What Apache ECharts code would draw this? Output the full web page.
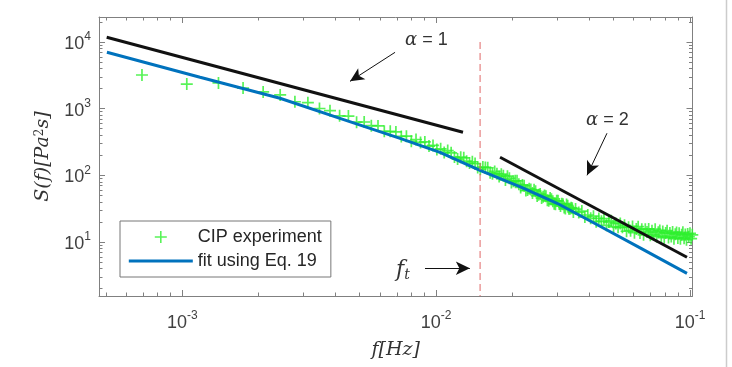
<!DOCTYPE html>
<html><head><meta charset="utf-8">
<script src="https://cdn.jsdelivr.net/npm/echarts@6/dist/echarts.min.js"></script>
<style>html,body{margin:0;padding:0;background:#fff}#c{width:732px;height:367px}</style>
</head><body><div id="c"></div><script>
// ---------- data ----------
const freq = [0.000694,0.001042,0.001389,0.001736,0.002083,0.002431,0.002778,0.003125,0.003472,0.003819,0.004167,0.004514,0.004861,0.005208,0.005556,0.005903,0.00625,0.006597,0.006944,0.007292,0.007639,0.007986,0.008333,0.008681,0.009028,0.009375,0.009722,0.01007,0.01042,
0.01111,0.01181,0.0125,0.01319,0.01389,0.01458,0.01528,0.01597,0.01667,0.01736,0.01806,0.01875,0.01944,0.02014,0.02083,0.02153,0.02222,0.02292,0.02361,0.02431,0.025,0.02569,0.02639,0.02708,0.02778,0.02847,0.02917,0.02986,0.03056,0.03125,0.03194,0.03264,0.03333,0.03403,0.03472,
0.03542,0.03646,0.0375,0.03854,0.03958,0.04063,0.04167,0.04271,0.04375,0.04479,0.04583,0.04688,0.04792,0.04896,0.05,0.05104,0.05208,0.05313,0.05417,0.05521,0.05625,0.05729,0.05833,0.05938,0.06042,0.06146,0.0625,0.06354,0.06458,0.06563,0.06667,0.06771,0.06875,0.06979,0.07083,0.07188,0.07292,0.07396,0.075,0.07604,0.07708,0.07813,0.07917,0.08021,0.08125,0.08229,0.08333,0.08438,0.08542,0.08646,0.0875,0.08854,0.08958,0.09063,0.09167,0.09271,0.09375,0.09479,0.09583,0.09688,0.09792,0.09896,0.1,0.101,0.1021];
const cipS = [3200,2340,2430,2040,1780,1607,1270,1229,1005,933,781,774,628,631,555,551,457,457,448,384,387,325,345,312,317,275,281,244,250,
235,188,187,163,160,131,133,130,106,106,104,85.4,90.3,81.5,82.7,65.9,69.8,60.2,61.1,60.7,49.1,52.4,47.7,48.7,41.5,43.7,37.4,41.4,37.2,37.5,33.0,36.5,31.5,32.6,28.1,
31.2,27.8,29.1,23.7,25.4,22.7,24.4,20.2,22.6,20.5,22.4,17.8,19.9,20.8,16.9,19.0,16.6,19.0,16.6,17.8,14.5,16.7,14.8,17.1,13.8,15.7,17.0,13.7,15.5,12.8,15.6,14.1,15.7,12.6,14.7,13.0,15.6,12.0,14.0,14.9,12.3,14.4,11.6,13.6,14.8,11.7,13.6,12.1,14.1,11.2,13.1,13.9,11.5,13.5,11.2,12.8,14.0,11.4,13.0,10.8,13.2,12.0,13.5,11.2,12.8];
const freqMid = [0.01076,0.01146,0.01215,0.01285,0.01354,0.01424,0.01493,0.01563,0.01632,0.01701,0.01771,0.0184,0.0191,0.01979,0.02049,0.02118,0.02188,0.02257,0.02326,0.02396,0.02465,0.02535,0.02604,0.02674,0.02743,0.02813,0.02882,0.02951,0.03021,0.0309,0.0316,0.03229,0.03299,0.03368,0.03438];
const cipSMid = [220.7,217.5,175.2,183.0,152.5,150.1,123.3,131.5,109.3,114.6,95.8,98.7,97.3,78.2,83.0,73.4,71.9,59.1,62.8,54.3,57.8,51.3,45.6,49.8,42.4,45.6,40.9,36.7,41.5,34.8,36.8,31.7,35.1,31.6,32.1];
const fitFreq = [5.05e-4,1.175e-3,2.427e-3,4.18e-3,7.21e-3,0.01036,0.01489,0.02171,0.02996,0.04423,0.0636,0.0973];
const fitS = [7010,2955,1431,717,359,221.6,119,66.2,38.1,17.2,8.18,3.39];
const slope1Freq = [5.04e-4, 0.01276];
const slope1S = [11770, 443];
const slope2Freq = [0.01786, 0.0973];
const slope2S = [186.5, 5.90];
const ftFreq = [0.0149, 0.0149];
const ftS = [10000, 1.549];
const xRange = [4.70e-4, 0.1023];
const yRange = [1.549, 23714];
const xMajor = [1e-3, 1e-2, 1e-1];
const yMajor = [1e1, 1e2, 1e3, 1e4];
const minorMult = [2,3,4,5,6,7,8,9];
const xDecades = [1e-4, 1e-3, 1e-2];
const yDecades = [1, 10, 100, 1000, 10000];
const arrowFrom = [[6.89e-3, 7000], [0.0471, 428], [9.04e-3, 4.04]];
const arrowTo = [[4.58e-3, 2570], [0.0393, 100], [0.01358, 4.04]];

// ---------- chart ----------
const L = Math.log10;
const pts = (xs, ys) => xs.map((x, i) => [L(x), L(ys[i])]);
const axisColor = '#808080';
const labelColor = '#404040';
const green = '#2ef02e';
const xMinor = xDecades.flatMap(d => minorMult.map(k => L(k * d)));
const yMinor = yDecades.flatMap(d => minorMult.map(k => L(k * d)));
const tickRich = {
  b: {fontSize: 18, fontFamily: 'Liberation Sans', color: labelColor, padding: [4, 0, 0, 0]},
  e: {fontSize: 12, fontFamily: 'Liberation Sans', color: labelColor, verticalAlign: 'top', lineHeight: 12}
};
const fmt = v => '{b|10}{e|' + Math.round(v) + '}';
const mathRich = {
  i: {fontFamily: 'DejaVu Serif', fontStyle: 'italic', fontSize: 19, color: '#333'},
  s: {fontFamily: 'DejaVu Serif', fontSize: 12, color: '#333', verticalAlign: 'top', lineHeight: 12}
};

function mkAxis(dim, pos, major, minor, withLabel) {
  const range = dim === 'x' ? xRange : yRange;
  return {
    type: 'value', position: pos, min: L(range[0]), max: L(range[1]),
    splitLine: {show: false},
    axisLine: {show: !minor, onZero: false, lineStyle: {color: axisColor, width: 1}},
    axisTick: {show: true, inside: true, length: minor ? 3.5 : 6, customValues: major, lineStyle: {color: axisColor, width: 1}},
    axisLabel: withLabel ? {show: true, customValues: major, formatter: fmt, rich: tickRich, margin: dim === 'x' ? 14 : 8} : {show: false}
  };
}
const xMajorL = xMajor.map(L), yMajorL = yMajor.map(L);
const xAxes = [mkAxis('x', 'bottom', xMajorL, false, true), mkAxis('x', 'top', xMajorL, false, false),
  mkAxis('x', 'bottom', xMinor, true, false), mkAxis('x', 'top', xMinor, true, false)];
const yAxes = [mkAxis('y', 'left', yMajorL, false, true), mkAxis('y', 'right', yMajorL, false, false),
  mkAxis('y', 'left', yMinor, true, false), mkAxis('y', 'right', yMinor, true, false)];
Object.assign(xAxes[0], {name: '{i|f[Hz]}', nameLocation: 'middle', nameGap: 45, nameTextStyle: {rich: mathRich}});
Object.assign(yAxes[0], {name: '{i|S(f)[Pa}{s|2}{i|s]}', nameLocation: 'middle', nameGap: 46, nameRotate: 90, nameTextStyle: {rich: mathRich}});

const option = {
  animation: false,
  backgroundColor: '#fff',
  grid: {left: 99, right: 39.5, top: 17, bottom: 71, containLabel: false},
  xAxis: xAxes,
  yAxis: yAxes,
  legend: {
    data: [
      {name: 'CIP experiment', icon: 'path://M-32,-7L-32,-7M32,7L32,7M0,-6L0,6M-6,0L6,0', itemStyle: {color: green, borderColor: green, borderWidth: 1.6}},
      {name: 'fit using Eq. 19', icon: 'path://M0,5.5L64,5.5L64,8.5L0,8.5Z', itemStyle: {color: '#0072BD', borderWidth: 0}}
    ],
    orient: 'vertical', left: 120, top: 221, itemWidth: 64, itemHeight: 14, itemGap: 6,
    padding: [7, 9, 7, 8], backgroundColor: '#fff', borderColor: '#777', borderWidth: 1,
    selectedMode: false,
    textStyle: {fontSize: 18, fontFamily: 'Liberation Sans', color: '#262626', lineHeight: 18}
  },
  series: [
    {name: 'CIP experiment', type: 'scatter', z: 2, data: pts(freq.concat(freqMid), cipS.concat(cipSMid)),
     symbol: 'path://M0,-6L0,6M-6,0L6,0', symbolSize: 12,
     itemStyle: {color: green, borderColor: green, borderWidth: 1.7}},
    {name: 'fit using Eq. 19', type: 'line', z: 3, data: pts(fitFreq, fitS), symbol: 'none',
     lineStyle: {color: '#0072BD', width: 3}, itemStyle: {color: '#0072BD'}},
    {name: 'slope1', type: 'line', z: 4, data: pts(slope1Freq, slope1S), symbol: 'none',
     lineStyle: {color: '#111', width: 3}},
    {name: 'slope2', type: 'line', z: 4, data: pts(slope2Freq, slope2S), symbol: 'none',
     lineStyle: {color: '#111', width: 3}},
    {name: 'ft', type: 'line', z: 5, data: pts(ftFreq, ftS), symbol: 'none',
     lineStyle: {color: '#e06868', width: 1, type: [7, 4]},
     markLine: {silent: true, symbol: ['none', 'arrow'], symbolSize: [10, 14],
       label: {show: false}, lineStyle: {color: '#111', width: 1, type: 'solid'},
       data: arrowFrom.map((a, i) => [{coord: [L(a[0]), L(a[1])]}, {coord: [L(arrowTo[i][0]), L(arrowTo[i][1])]}])}}
  ],
  graphic: [
    {type: 'text', x: 405, y: 40, style: {text: '{a|α}{n| = 1}', verticalAlign: 'middle', align: 'left',
      rich: {a: {fontFamily: 'DejaVu Serif', fontStyle: 'italic', fontSize: 18, fill: '#333'}, n: {fontFamily: 'Liberation Sans', fontSize: 18, fill: '#333'}}}},
    {type: 'text', x: 586, y: 120, style: {text: '{a|α}{n| = 2}', verticalAlign: 'middle', align: 'left',
      rich: {a: {fontFamily: 'DejaVu Serif', fontStyle: 'italic', fontSize: 18, fill: '#333'}, n: {fontFamily: 'Liberation Sans', fontSize: 18, fill: '#333'}}}},
    {type: 'text', x: 396, y: 270, style: {text: '{f|f}{t|t}', verticalAlign: 'middle', align: 'left',
      rich: {f: {fontFamily: 'DejaVu Serif', fontStyle: 'italic', fontSize: 22, fill: '#333', lineHeight: 24}, t: {fontFamily: 'DejaVu Serif', fontStyle: 'italic', fontSize: 14, fill: '#333', verticalAlign: 'bottom', lineHeight: 16}}}},
    {type: 'line', shape: {x1: 726.5, y1: 0, x2: 726.5, y2: 367}, style: {stroke: '#cccccc', lineWidth: 1.5}}
  ]
};
const chart = echarts.init(document.getElementById('c'), null, {renderer: 'canvas'});
chart.setOption(option);
</script></body></html>
